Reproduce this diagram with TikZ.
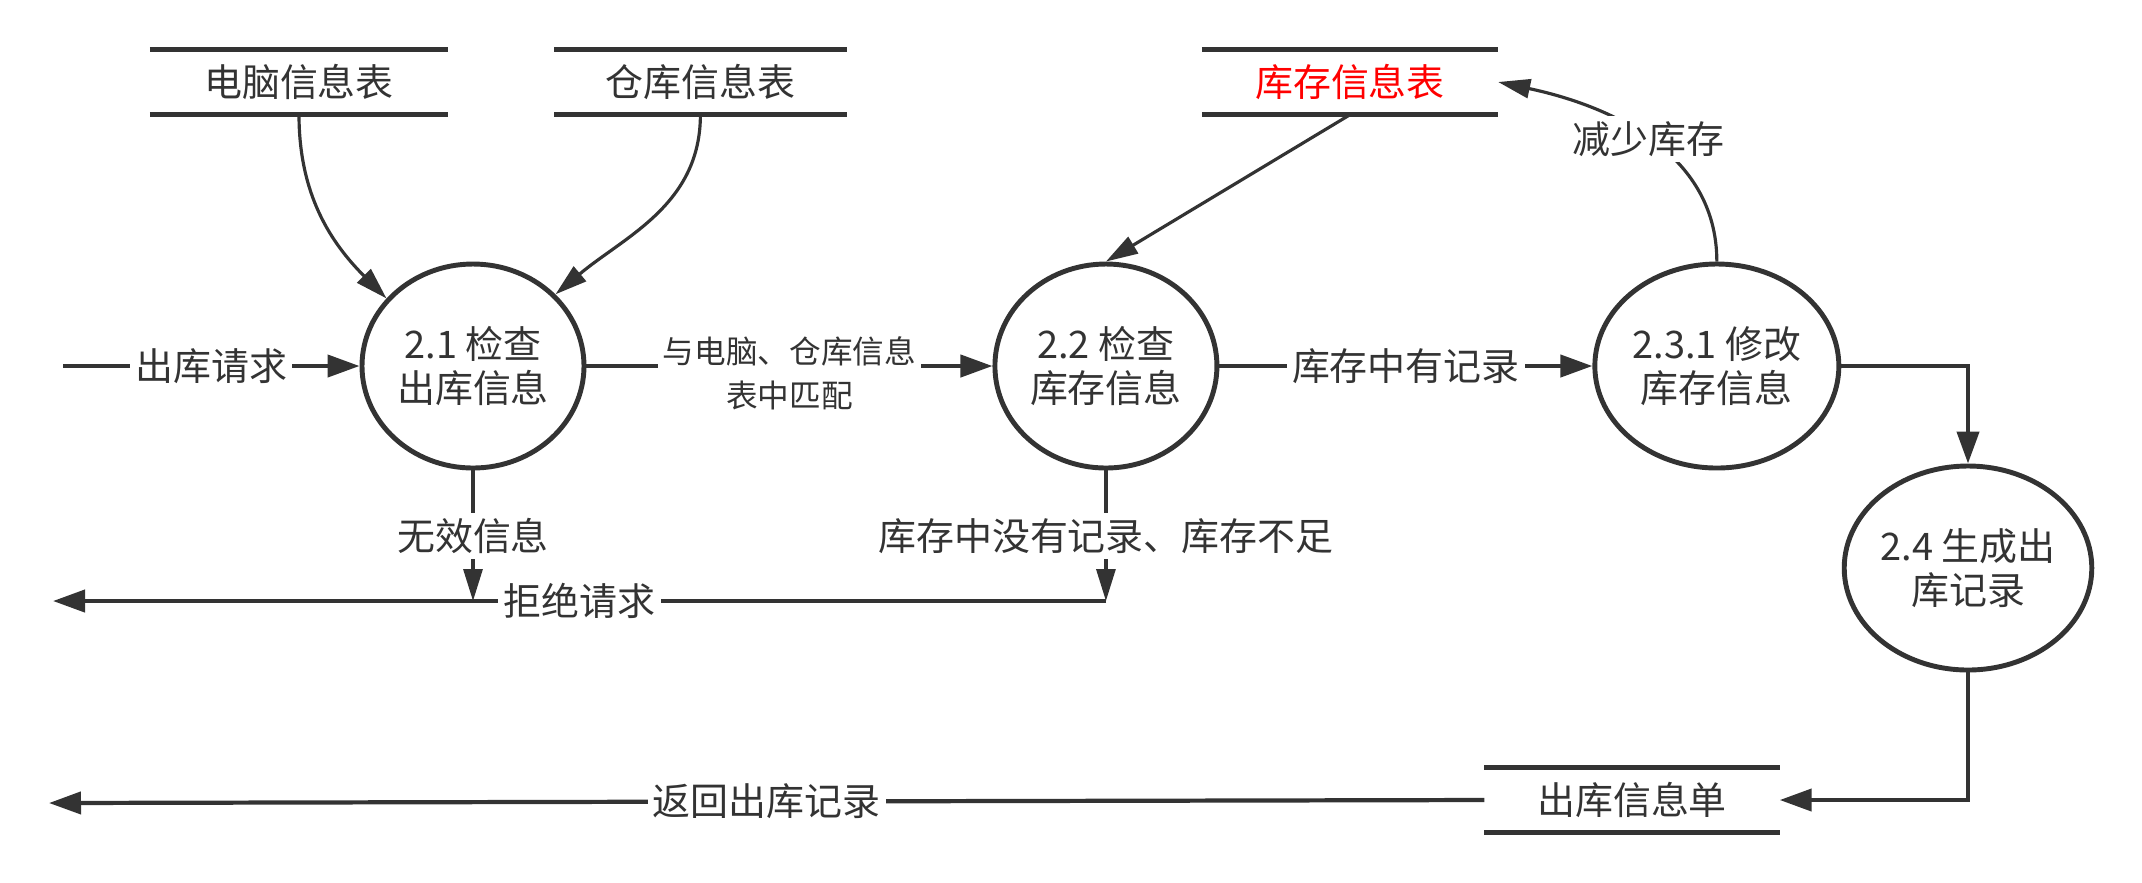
\documentclass[tikz,border=0pt]{standalone}
\usepackage{fontspec}
\setmainfont{Noto Sans CJK SC}
\usepackage{xcolor}
\usepackage{tikz}
\usetikzlibrary{shapes.geometric, arrows.meta, positioning, calc}
\definecolor{ink}{HTML}{333333}
\definecolor{hot}{HTML}{FF0000}

\begin{document}
\begin{tikzpicture}[
    proc/.style={ellipse, draw=ink, line width=1.4pt, minimum width=#1, minimum height=2.04cm,
                 inner sep=0pt, align=center, text=ink, font=\fontsize{10.8}{12.6}\selectfont},
    proc/.default=2.22cm,
    store/.style={rectangle, minimum width=#1, minimum height=0.64cm, inner sep=0pt,
                  text=ink, font=\fontsize{10.8}{12.6}\selectfont},
    store/.default=2.95cm,
    bar/.style={draw=ink, line width=1.3pt},
    flow/.style={draw=ink, line width=1.2pt, -{Triangle[length=0.32cm, width=0.22cm]}},
    thinflow/.style={draw=ink, line width=0.9pt, -{Triangle[length=0.32cm, width=0.19cm]}},
    lbl/.style={fill=white, inner sep=1.5pt, text=ink, font=\fontsize{10.8}{12.6}\selectfont},
    tiny/.style={lbl, align=center, font=\fontsize{9}{12.5}\selectfont},
]
    \useasboundingbox (0,0) rectangle (21.42,-8.82);

    % Processes
    \node[proc] (p21) at (4.73,-3.66) {2.1 检查\\出库信息};
    \node[proc, right=4.06cm of p21] (p22) {2.2 检查\\库存信息};
    \node[proc=2.44cm, right=3.73cm of p22] (p231) {2.3.1 修改\\库存信息};
    \node[proc=2.33cm] (p24) at (19.68,-5.68) {2.4 生成出\\库记录};

    % Data stores
    \node[store=2.97cm] (s1) at (2.99,-0.82) {电脑信息表};
    \node[store=2.91cm, right=1.06cm of s1] (s2) {仓库信息表};
    \node[store, text=hot] (s3) at (13.50,-0.82) {库存信息表};
    \node[store=2.94cm] (s4) at (16.32,-8.00) {出库信息单};
    \foreach \s in {s1,s2,s3,s4}
        \draw[bar] (\s.north west) -- (\s.north east) (\s.south west) -- (\s.south east);

    % Free ends
    \coordinate (src) at (0.63,-3.66);
    \coordinate (rjR) at (11.06,-6.01);
    \coordinate (rjL) at (0.53,-6.01);
    \coordinate (ret) at (0.49,-8.03);

    % Flows
    \draw[flow] (src) -- node[lbl]{出库请求} (p21);
    \draw[flow] (p21) -- node[tiny, yshift=-0.07cm]{与电脑、仓库信息\\表中匹配} (p22);
    \draw[flow] (p22) -- node[lbl]{库存中有记录} (p231);
    \draw[flow] (p231.east) -| (p24.north);
    \draw[flow] (p24.south) |- (s4.east);
    \draw[flow] (s4.west) -- node[lbl]{返回出库记录} (ret);
    \draw[flow] (rjR) -- node[lbl]{拒绝请求} (rjL);

    \draw[thinflow] (p21.south) -- node[lbl]{无效信息} (p21.south |- rjR);
    \draw[thinflow] (p22.south) -- node[lbl]{库存中没有记录、库存不足} (p22.south |- rjR);

    \draw[thinflow] (s1.south) to[out=-90, in=135] (p21.142);
    \draw[thinflow] (s2.south) to[out=-90, in=40] (p21.41);
    \draw[thinflow] (s3.south) -- (p22.north);
    \draw[thinflow] (p231.north) to[out=90, in=-12] node[lbl]{减少库存} (s3.east);

\end{tikzpicture}
\end{document}
